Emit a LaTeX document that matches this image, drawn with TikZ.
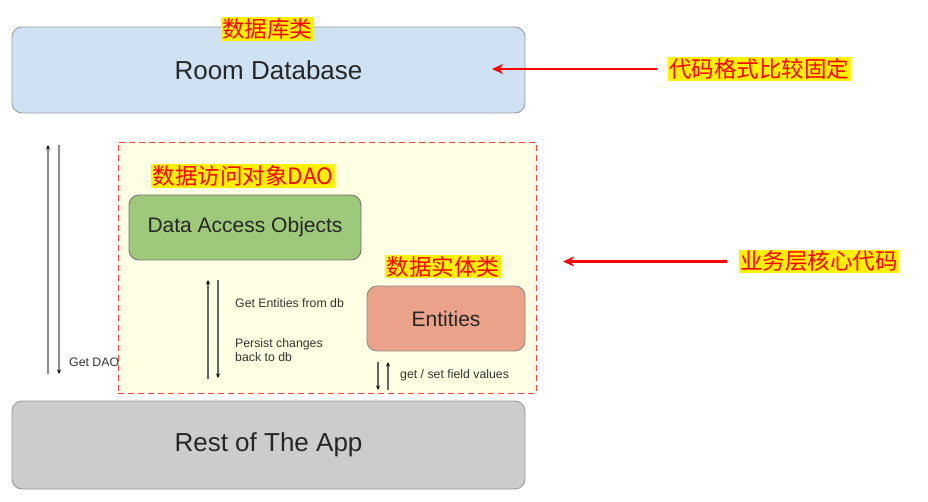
\documentclass[tikz,border=0pt]{standalone}
\usepackage{fontspec}
\setmainfont{Liberation Sans}
\newfontfamily\cjk{Noto Sans CJK SC}
\usetikzlibrary{arrows.meta}
\definecolor{roomblue}{HTML}{CFE2F3}
\definecolor{daogreen}{HTML}{9FC97A}
\definecolor{entsalmon}{HTML}{EAA38A}
\definecolor{restgray}{HTML}{CCCCCC}
\definecolor{bizyellow}{HTML}{FFFFE3}
\definecolor{boxedge}{HTML}{9A9A9A}
\begin{document}
\begin{tikzpicture}[x=1pt,y=-1pt,
  bigbox/.style={draw=boxedge, rounded corners=10pt, line width=0.9pt, text=black!85},
  tag/.style={fill=yellow, text=red, font=\cjk\fontsize{22.5}{26}\selectfont, inner sep=1.5pt},
  flow/.style={draw=black!45, -{Stealth[length=4.5pt,width=4pt,color=black,fill=black]}, line width=1.3pt},
  note/.style={font=\fontsize{12.3}{14.6}\selectfont, text=black!80, anchor=west, inner sep=0pt, align=left},
  callout/.style={draw=red, color=red, line width=2.6pt, -{Stealth[length=11pt,width=10pt]}}]
\useasboundingbox (0,0) rectangle (928,502);

% business area
\node[draw=red!75, dashed, dash pattern=on 6pt off 4pt, line width=0.9pt, fill=bizyellow,
      minimum width=418pt, minimum height=251pt, inner sep=0pt] (biz) at (327,267.5) {};

% main boxes
\node[bigbox, fill=roomblue, minimum width=513pt, minimum height=86pt,
      font=\fontsize{26}{30}\selectfont] (room) at (268.5,70) {Room Database};
\node[bigbox, fill=daogreen, draw=black!55, minimum width=232pt, minimum height=65pt,
      font=\fontsize{21}{25}\selectfont] (dao) at (245,227.5) {Data Access Objects};
\node[bigbox, fill=entsalmon, draw=black!45, minimum width=158pt, minimum height=65pt,
      font=\fontsize{21}{25}\selectfont] (ent) at (446,318.5) {Entities};
\node[bigbox, fill=restgray, minimum width=513pt, minimum height=88pt,
      font=\fontsize{26}{30}\selectfont] (rest) at (268.5,445) {Rest of The App};

% tags
\node[tag] (tagroom) at (267,29) {数据库类};
\node[tag] (tagdao) at (243,176) {数据访问对象DAO};
\node[tag] (tagent) at (443,266.5) {数据实体类};
\node[tag] (tagfix) at (759,69) {代码格式比较固定};
\node[tag] (tagcore) at (819,261.5) {业务层核心代码};

% free arrow ends
\coordinate (a1s) at (48,374); \coordinate (a1e) at (48,145);
\coordinate (a2s) at (59,145); \coordinate (a2e) at (59,374);
\coordinate (b1s) at (208,379); \coordinate (b1e) at (208,280);
\coordinate (b2s) at (218,280); \coordinate (b2e) at (218,378);
\coordinate (c1s) at (378,362); \coordinate (c1e) at (378,390);
\coordinate (c2s) at (388,390); \coordinate (c2e) at (388,362);
\coordinate (fixend) at (492,69);
\coordinate (coreend) at (563,261.5);

\draw[flow] (a1s) -- (a1e);
\draw[flow] (a2s) -- (a2e);
\draw[flow, draw=black!60] (b1s) -- (b1e);
\draw[flow, draw=black!60] (b2s) -- (b2e);
\draw[flow, draw=black!60] (c1s) -- (c1e);
\draw[flow, draw=black!60] (c2s) -- (c2e);

% notes
\node[note] (ngetdao) at (69,362) {Get DAO};
\node[note] (nget) at (235,303) {Get Entities from db};
\node[note] (npersist) at (235,350) {Persist changes\\back to db};
\node[note] (nfield) at (400,375.5) {get / set field values};

% callouts
\draw[callout, shorten <=10pt] (tagfix.west) -- (fixend);
\draw[callout, shorten <=12pt] (tagcore.west) -- (coreend);
\end{tikzpicture}
\end{document}
